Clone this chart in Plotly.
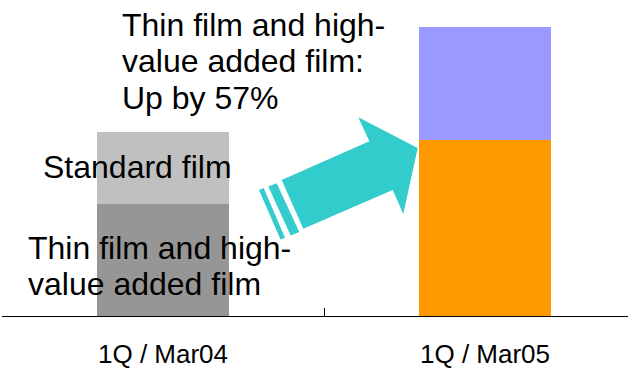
import plotly.graph_objects as go

# Quarterly film sales, indexed (1Q / Mar04 thin film = 100)
quarters = ["1Q / Mar04", "1Q / Mar05"]
thin_film = [100, 157]
standard_film = [64, 101]

thin_colors = ["#969696", "#ff9900"]
standard_colors = ["#c0c0c0", "#9999ff"]

W, H = 628, 369
ML, MR, MT, MB = 2, 0, 0, 50
PW, PH = W - ML - MR, H - MT - MB

FONT = "Liberation Sans, Arial, sans-serif"
TEAL = "#33cccc"


def paper(x, y):
    """Page pixel position -> paper coordinates."""
    return (x - ML) / PW, (H - MB - y) / PH


def path(points):
    pts = [paper(x, y) for x, y in points]
    return "M " + " L ".join(f"{px:.5f},{py:.5f}" for px, py in pts) + " Z"


fig = go.Figure()
fig.add_trace(go.Bar(x=quarters, y=thin_film, marker=dict(color=thin_colors, line=dict(width=0)),
                     width=0.407, name="Thin film and high-value added film"))
fig.add_trace(go.Bar(x=quarters, y=standard_film, marker=dict(color=standard_colors, line=dict(width=0)),
                     width=0.407, name="Standard film"))

# Growth arrow with tail stripes
arrow = [(281.7, 181.7), (369.3, 142.7), (358.3, 118.3), (417.7, 149.3),
         (403.3, 216.0), (392.7, 191.7), (303.3, 231.0)]
stripe_a = [(268.3, 188.3), (276.7, 185.0), (299.3, 234.3), (290.7, 237.7)]
stripe_b = [(259.0, 191.7), (263.7, 189.8), (285.0, 240.0), (280.5, 241.8)]
for poly in (arrow, stripe_a, stripe_b):
    fig.add_shape(type="path", path=path(poly), xref="paper", yref="paper",
                  fillcolor=TEAL, line=dict(width=0), layer="above")


def label(text, x, ymid, size=32):
    px, py = paper(x, ymid)
    fig.add_annotation(text=text, x=px, y=py, xref="paper", yref="paper",
                       xanchor="left", yanchor="middle", showarrow=False,
                       font=dict(family=FONT, size=size, color="#000000"))


label("Thin film and high-", 120, 25)
label("value added film:", 120, 62)
label("Up by 57%", 120, 99)
label("Standard film", 41, 169)
label("Thin film and high-", 26, 250)
label("value added film", 26, 287)

fig.update_layout(
    width=W, height=H,
    margin=dict(l=ML, r=MR, t=MT, b=MB, pad=0),
    barmode="stack",
    showlegend=False,
    paper_bgcolor="white",
    plot_bgcolor="white",
    xaxis=dict(
        type="category", range=[-0.5, -0.5 + PW / 322.0],
        showline=True, linecolor="#000000", linewidth=1.2,
        ticks="inside", tickson="boundaries", ticklen=8, tickcolor="#000000", tickwidth=1.2,
        tickfont=dict(family=FONT, size=26, color="#000000"),
        ticklabelstandoff=15,
        showgrid=False, zeroline=False,
    ),
    yaxis=dict(range=[0, PH / 1.13], visible=False, showgrid=False, zeroline=False),
)

fig.write_html("out.html")
